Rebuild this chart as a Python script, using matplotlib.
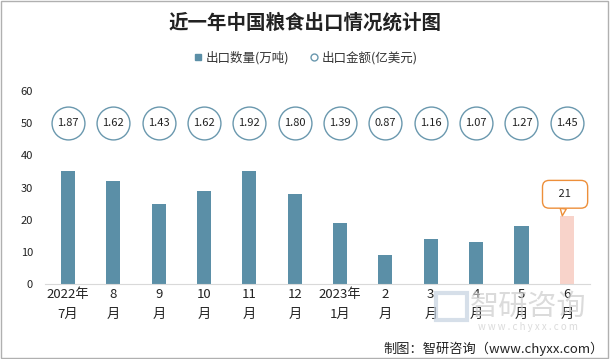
import matplotlib.pyplot as plt
import matplotlib.patches as mpatches
from matplotlib.lines import Line2D

plt.rcParams['font.family'] = ['Noto Sans CJK SC', 'DejaVu Sans']

months = ['2022年\n7月', '8\n月', '9\n月', '10\n月', '11\n月', '12\n月',
          '2023年\n1月', '2\n月', '3\n月', '4\n月', '5\n月', '6\n月']
volume = [35, 32, 25, 29, 35, 28, 19, 9, 14, 13, 18, 21]   # 万吨
amount = [1.87, 1.62, 1.43, 1.62, 1.92, 1.80, 1.39, 0.87, 1.16, 1.07, 1.27, 1.45]  # 亿美元

bar_color = '#5b8fa7'
last_color = '#f8d3ca'

fig = plt.figure(figsize=(6.1, 3.59), dpi=100)
ax = fig.add_axes([0.0744, 0.2089, 0.892, 0.5376])

x = list(range(len(months)))
colors = [bar_color] * (len(x) - 1) + [last_color]
ax.bar(x, volume, width=0.31, color=colors, zorder=2)

# 金额 shown as circles in a row at y=50
circle_y = [50] * len(x)
ax.scatter(x, circle_y, s=560, facecolor='white', edgecolor='#6a98ae', linewidth=1.0, zorder=3)
for xi, v in zip(x, amount):
    ax.text(xi, 50, f'{v:.2f}', ha='center', va='center', fontsize=8, color='#222222', zorder=4)

# callout for the last bar
ax.annotate('   ' + str(volume[-1]) + '   ', xy=(x[-1] - 0.1, volume[-1] + 0.2), xytext=(2, 15.5),
            textcoords='offset points', ha='center', va='center', fontsize=8, color='#222222',
            bbox=dict(boxstyle='round,pad=0.8,rounding_size=0.6', fc='white', ec='#ed8f3a', lw=1.0),
            arrowprops=dict(arrowstyle='wedge,tail_width=0.55', fc='white', ec='#ed8f3a', lw=1.0,
                            shrinkA=0, shrinkB=0),
            zorder=5)

ax.set_xlim(-0.5, len(x) - 0.5)
ax.set_ylim(0, 60)
ax.set_yticks(range(0, 61, 10))
ax.set_xticks(x)
ax.set_xticklabels(months, fontsize=9.5, linespacing=1.7, color='#222222')
ax.tick_params(axis='y', length=0, labelsize=8, labelcolor='#222222', pad=9)
ax.tick_params(axis='x', length=0, pad=3)
for s in ['top', 'right', 'left']:
    ax.spines[s].set_visible(False)
ax.spines['bottom'].set_color('#d9d9d9')

fig.text(0.5, 0.938, '近一年中国粮食出口情况统计图', ha='center', va='center',
         fontsize=14, fontweight='bold', color='#222222')

handles = [Line2D([], [], marker='s', color=bar_color, linestyle='none', markersize=5),
           Line2D([], [], marker='o', markerfacecolor='white', markeredgecolor='#6a98ae',
                  linestyle='none', markersize=5)]
fig.legend(handles, ['出口数量(万吨)', '出口金额(亿美元)'], loc='center', bbox_to_anchor=(0.5, 0.84),
           ncol=2, frameon=False, fontsize=9, handletextpad=0.1, columnspacing=1.5,
           handlelength=1.0, labelcolor='#333333')

# watermark
fig.text(0.865, 0.145, '智研咨询', ha='center', va='center', fontsize=21, color='#cccccc',
         alpha=0.7, zorder=0)
fig.text(0.865, 0.09, 'w w w . c h y x x . c o m', ha='center', va='center', fontsize=7,
         color='#cccccc', alpha=0.7)
fig.patches.append(mpatches.Rectangle((0.715, 0.11), 0.05, 0.075, transform=fig.transFigure,
                                      fc='none', ec='#c5d2e0', lw=3, alpha=0.7))

fig.text(0.99, 0.028, '制图：智研咨询（www.chyxx.com）', ha='right', va='center',
         fontsize=9.5, color='#222222')

# outer frame
fig.patches.append(mpatches.Rectangle((0.002, 0.003), 0.995, 0.994, transform=fig.transFigure,
                                      fc='none', ec='#b0b0b0', lw=1))

fig.savefig('out.png', dpi=100)
